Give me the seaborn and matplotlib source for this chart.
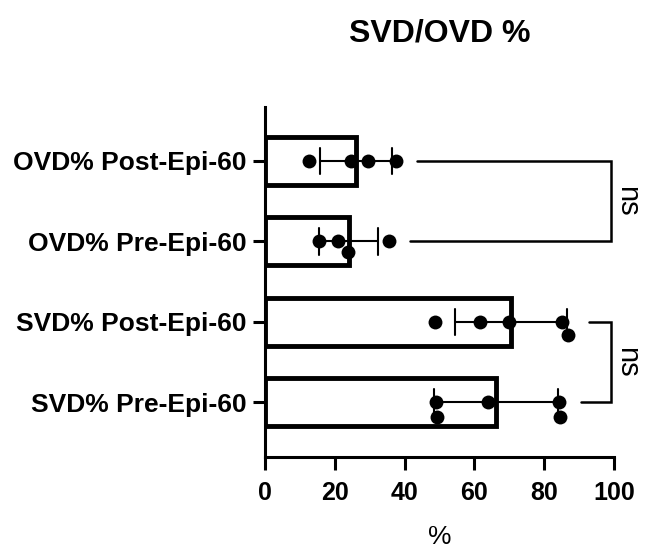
import numpy as np
import pandas as pd
import seaborn as sns
import matplotlib
matplotlib.use("Agg")
import matplotlib.pyplot as plt

# values (%)
GROUPS = ["OVD% Post-Epi-60", "OVD% Pre-Epi-60", "SVD% Post-Epi-60", "SVD% Pre-Epi-60"]
ovd_post = [12.6, 24.6, 29.5, 37.5]
ovd_pre = [15.5, 21.0, 23.8, 35.5]
svd_post = [48.7, 61.6, 69.9, 85.1, 86.8]
svd_pre = [49.0, 49.2, 63.9, 84.2, 84.5]
X_TICKS = [0, 20, 40, 60, 80, 100]
COMPARISONS = [("OVD% Post-Epi-60", "OVD% Pre-Epi-60", "ns"),
               ("SVD% Post-Epi-60", "SVD% Pre-Epi-60", "ns")]

sns.set_style("ticks")
plt.rcParams["font.family"] = ["Liberation Sans", "DejaVu Sans"]
plt.rcParams["text.color"] = "black"
plt.rcParams["axes.labelcolor"] = "black"
plt.rcParams["xtick.color"] = "black"
plt.rcParams["ytick.color"] = "black"

values = {"OVD% Post-Epi-60": ovd_post, "OVD% Pre-Epi-60": ovd_pre,
          "SVD% Post-Epi-60": svd_post, "SVD% Pre-Epi-60": svd_pre}
df = pd.DataFrame([(g, v) for g in GROUPS for v in values[g]], columns=["group", "pct"])

fig = plt.figure(figsize=(6.48, 5.53), dpi=100)
ax = fig.add_axes([0.409, 0.1736, 0.5386, 0.633])

sns.barplot(data=df, x="pct", y="group", order=GROUPS, orient="h", ax=ax,
            width=0.6, color="white", saturation=1, edgecolor="black", linewidth=3.5,
            errorbar="sd", capsize=0.33, err_kws={"color": "black", "linewidth": 1.5})
sns.swarmplot(data=df, x="pct", y="group", order=GROUPS, orient="h", ax=ax,
              color="black", size=10, linewidth=0, zorder=5)

ax.set_xlim(0, 100)
ax.set_ylim(3.68, -0.67)
ax.set_xticks(X_TICKS)
ax.set_xticklabels([str(t) for t in X_TICKS], fontsize=18, fontweight="bold")
ax.set_yticks(range(len(GROUPS)))
ax.set_yticklabels(GROUPS, fontsize=19, fontweight="bold")
ax.tick_params(axis="both", length=9, width=2.2, color="black")
ax.tick_params(axis="x", pad=8)
ax.tick_params(axis="y", pad=4)
ax.set_ylabel("")
ax.set_xlabel("%", fontsize=19, labelpad=15)
ax.set_title("SVD/OVD %", fontsize=23, fontweight="bold", pad=47)
for side in ["left", "bottom"]:
    ax.spines[side].set_linewidth(2.2)
    ax.spines[side].set_color("black")
sns.despine(ax=ax)

# significance brackets
for a, b, label in COMPARISONS:
    ia, ib = GROUPS.index(a), GROUPS.index(b)
    xa, xb = max(values[a]) + 6, max(values[b]) + 6
    xr = 99
    ax.plot([xa, xr, xr, xb], [ia, ia, ib, ib], color="black", lw=1.8,
            clip_on=False, solid_joinstyle="miter")
    ax.text(xr + 4.8, (ia + ib) / 2, label, rotation=270, ha="center", va="center",
            fontsize=21, clip_on=False)

fig.savefig("out.png", dpi=100)
